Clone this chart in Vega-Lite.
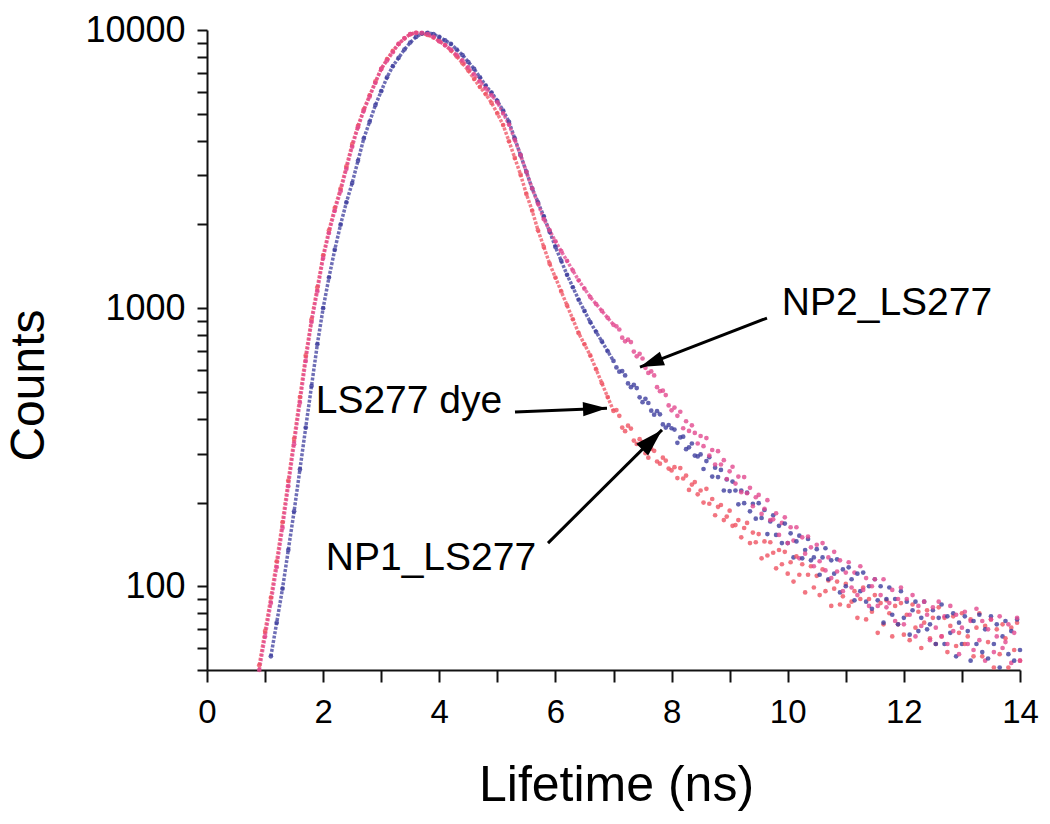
{
  "$schema": "https://vega.github.io/schema/vega-lite/v6.json",
  "width": 813,
  "height": 640,
  "autosize": {"type": "none"},
  "padding": {"left": 207, "top": 30, "right": 30, "bottom": 154},
  "background": "white",
  "config": {"view": {"stroke": null}, "font": "Liberation Sans, Arial, sans-serif"},
  "datasets": {
    "curves": [
      {"t":0.9,"d":52,"a":null,"b":50},{"t":1.0,"d":69,"a":null,"b":66},{"t":1.1,"d":91,"a":56,"b":87},{"t":1.2,"d":123,"a":74,"b":117},
      {"t":1.3,"d":170,"a":98,"b":162},{"t":1.4,"d":240,"a":135,"b":229},{"t":1.5,"d":339,"a":186,"b":324},{"t":1.6,"d":479,"a":263,"b":457},
      {"t":1.7,"d":676,"a":372,"b":646},{"t":1.8,"d":912,"a":525,"b":891},{"t":1.9,"d":1189,"a":741,"b":1148},{"t":2.0,"d":1549,"a":1000,"b":1514},
      {"t":2.1,"d":1905,"a":1288,"b":1862},{"t":2.2,"d":2291,"a":1622,"b":2239},{"t":2.3,"d":2692,"a":1995,"b":2630},{"t":2.4,"d":3236,"a":2399,"b":3162},
      {"t":2.5,"d":3890,"a":2818,"b":3802},{"t":2.6,"d":4519,"a":3388,"b":4467},{"t":2.7,"d":5188,"a":4074,"b":5129},{"t":2.8,"d":5821,"a":4677,"b":5754},
      {"t":2.9,"d":6531,"a":5370,"b":6457},{"t":3.0,"d":7244,"a":6026,"b":7244},{"t":3.1,"d":7852,"a":6761,"b":7762},{"t":3.2,"d":8414,"a":7413,"b":8318},
      {"t":3.3,"d":8913,"a":7943,"b":8913},{"t":3.4,"d":9333,"a":8511,"b":9333},{"t":3.5,"d":9661,"a":9016,"b":9661},{"t":3.6,"d":9772,"a":9441,"b":9772},
      {"t":3.7,"d":9720,"a":9705,"b":9772},{"t":3.8,"d":9600,"a":9772,"b":9661},{"t":3.9,"d":9397,"a":9661,"b":9441},{"t":4.0,"d":9120,"a":9441,"b":9120},
      {"t":4.1,"d":8831,"a":9183,"b":8810},{"t":4.2,"d":8433,"a":8913,"b":8511},{"t":4.3,"d":8035,"a":8511,"b":8128},{"t":4.4,"d":7586,"a":8128,"b":7762},
      {"t":4.5,"d":7145,"a":7674,"b":7328},{"t":4.6,"d":6668,"a":7244,"b":6918},{"t":4.7,"d":6237,"a":6761,"b":6531},{"t":4.8,"d":5875,"a":6310,"b":6166},
      {"t":4.9,"d":5470,"a":5957,"b":5821},{"t":5.0,"d":5012,"a":5559,"b":5495},{"t":5.1,"d":4550,"a":5129,"b":5012},{"t":5.2,"d":3981,"a":4677,"b":4571},
      {"t":5.3,"d":3467,"a":4074,"b":4027},{"t":5.4,"d":3020,"a":3548,"b":3548},{"t":5.5,"d":2570,"a":3090,"b":3090},{"t":5.6,"d":2239,"a":2692,"b":2692},
      {"t":5.7,"d":1905,"a":2399,"b":2371},{"t":5.8,"d":1660,"a":2138,"b":2089},{"t":5.9,"d":1445,"a":1884,"b":1905},{"t":6.0,"d":1288,"a":1660,"b":1738},
      {"t":6.1,"d":1148,"a":1479,"b":1603},{"t":6.2,"d":1023,"a":1318,"b":1479},{"t":6.3,"d":912,"a":1189,"b":1365},{"t":6.4,"d":813,"a":1072,"b":1259},
      {"t":6.5,"d":741,"a":977,"b":1175},{"t":6.6,"d":676,"a":891,"b":1096},{"t":6.7,"d":603,"a":822,"b":1035},{"t":6.8,"d":537,"a":759,"b":977},
      {"t":6.9,"d":479,"a":700,"b":923},{"t":7.0,"d":427,"a":646,"b":871},
      {"t":7.05,"d":430,"a":612,"b":860},{"t":7.1,"d":410,"a":591,"b":838},{"t":7.15,"d":372,"a":594,"b":783},{"t":7.2,"d":361,"a":573,"b":760},
      {"t":7.25,"d":378,"a":536,"b":770},{"t":7.3,"d":369,"a":520,"b":755},{"t":7.35,"d":334,"a":530,"b":698},{"t":7.4,"d":325,"a":516,"b":671},
      {"t":7.45,"d":338,"a":478,"b":685},{"t":7.5,"d":330,"a":459,"b":659},{"t":7.55,"d":301,"a":472,"b":610},{"t":7.6,"d":290,"a":456,"b":585},
      {"t":7.65,"d":312,"a":428,"b":592},{"t":7.7,"d":307,"a":414,"b":573},{"t":7.75,"d":281,"a":426,"b":520},{"t":7.8,"d":276,"a":415,"b":503},
      {"t":7.85,"d":290,"a":382,"b":505},{"t":7.9,"d":283,"a":372,"b":487},{"t":7.95,"d":265,"a":380,"b":447},{"t":8.0,"d":261,"a":370,"b":429},
      {"t":8.05,"d":268,"a":366,"b":439},{"t":8.1,"d":245,"a":328,"b":410},{"t":8.15,"d":266,"a":343,"b":424},{"t":8.2,"d":244,"a":345,"b":370},
      {"t":8.25,"d":250,"a":311,"b":392},{"t":8.3,"d":222,"a":316,"b":362},{"t":8.35,"d":232,"a":326,"b":379},{"t":8.4,"d":237,"a":295,"b":356},
      {"t":8.45,"d":214,"a":293,"b":326},{"t":8.5,"d":221,"a":298,"b":347},{"t":8.55,"d":200,"a":264,"b":319},{"t":8.6,"d":224,"a":282,"b":341},
      {"t":8.65,"d":198,"a":291,"b":295},{"t":8.7,"d":206,"a":248,"b":309},{"t":8.75,"d":180,"a":267,"b":274},{"t":8.8,"d":193,"a":247,"b":306},
      {"t":8.85,"d":196,"a":262,"b":274},{"t":8.9,"d":173,"a":221,"b":284},{"t":8.95,"d":178,"a":242,"b":243},{"t":9.0,"d":187,"a":220,"b":259},
      {"t":9.05,"d":165,"a":238,"b":269},{"t":9.1,"d":166,"a":221,"b":234},{"t":9.15,"d":173,"a":197,"b":248},{"t":9.2,"d":150,"a":221,"b":218},
      {"t":9.25,"d":162,"a":199,"b":247},{"t":9.3,"d":169,"a":217,"b":216},{"t":9.35,"d":143,"a":186,"b":226},{"t":9.4,"d":156,"a":198,"b":194},
      {"t":9.45,"d":144,"a":175,"b":209},{"t":9.5,"d":154,"a":199,"b":213},{"t":9.55,"d":126,"a":176,"b":182},{"t":9.6,"d":145,"a":188,"b":190},
      {"t":9.65,"d":129,"a":154,"b":204},{"t":9.7,"d":144,"a":171,"b":173},{"t":9.75,"d":132,"a":180,"b":174},{"t":9.8,"d":116,"a":153,"b":183},
      {"t":9.85,"d":135,"a":165,"b":153},{"t":9.9,"d":120,"a":143,"b":169},{"t":9.95,"d":133,"a":168,"b":177},{"t":10.0,"d":111,"a":143,"b":143},
      {"t":10.05,"d":122,"a":155,"b":163},{"t":10.1,"d":104,"a":127,"b":146},{"t":10.15,"d":128,"a":145,"b":163},{"t":10.2,"d":110,"a":152,"b":126},
      {"t":10.25,"d":120,"a":126,"b":150},{"t":10.3,"d":95,"a":135,"b":131},{"t":10.35,"d":110,"a":148,"b":151},{"t":10.4,"d":118,"a":124,"b":138},
      {"t":10.45,"d":99,"a":127,"b":118},{"t":10.5,"d":109,"a":136,"b":141},{"t":10.55,"d":93,"a":110,"b":123},{"t":10.6,"d":115,"a":127,"b":143},
      {"t":10.65,"d":96,"a":137,"b":114},{"t":10.7,"d":105,"a":106,"b":127},{"t":10.75,"d":85,"a":124,"b":107},{"t":10.8,"d":98,"a":111,"b":133},
      {"t":10.85,"d":104,"a":125,"b":113},{"t":10.9,"d":86,"a":95,"b":124},{"t":10.95,"d":92,"a":115,"b":96},{"t":11.0,"d":102,"a":100,"b":112},
      {"t":11.05,"d":85,"a":117,"b":122},{"t":11.1,"d":88,"a":106,"b":99},{"t":11.15,"d":96,"a":89,"b":112},{"t":11.2,"d":77,"a":111,"b":93},
      {"t":11.25,"d":90,"a":96,"b":118},{"t":11.3,"d":99,"a":112,"b":97},{"t":11.35,"d":76,"a":88,"b":107},{"t":11.4,"d":90,"a":100,"b":85},
      {"t":11.45,"d":81,"a":83,"b":100},{"t":11.5,"d":93,"a":106,"b":106},{"t":11.55,"d":68,"a":89,"b":85},{"t":11.6,"d":87,"a":100,"b":93},
      {"t":11.65,"d":73,"a":74,"b":106},{"t":11.7,"d":89,"a":90,"b":84},{"t":11.75,"d":80,"a":99,"b":87},{"t":11.8,"d":66,"a":79,"b":97},
      {"t":11.85,"d":85,"a":90,"b":75},{"t":11.9,"d":73,"a":73,"b":90},{"t":11.95,"d":87,"a":96,"b":99},{"t":12.0,"d":67,"a":77,"b":73},
      {"t":12.05,"d":79,"a":88,"b":90},{"t":12.1,"d":64,"a":67,"b":79},{"t":12.15,"d":86,"a":82,"b":93},{"t":12.2,"d":71,"a":88,"b":66},
      {"t":12.25,"d":81,"a":69,"b":85},{"t":12.3,"d":60,"a":77,"b":72},{"t":12.35,"d":74,"a":88,"b":88},{"t":12.4,"d":82,"a":70,"b":79},
      {"t":12.45,"d":65,"a":73,"b":64},{"t":12.5,"d":77,"a":82,"b":84},{"t":12.55,"d":62,"a":62,"b":71},{"t":12.6,"d":84,"a":77,"b":88},
      {"t":12.65,"d":66,"a":86,"b":66},{"t":12.7,"d":77,"a":62,"b":78},{"t":12.75,"d":58,"a":78,"b":62},{"t":12.8,"d":72,"a":68,"b":85},
      {"t":12.85,"d":78,"a":80,"b":69},{"t":12.9,"d":61,"a":56,"b":79},{"t":12.95,"d":68,"a":74,"b":57},{"t":13.0,"d":80,"a":62,"b":71},
      {"t":13.05,"d":62,"a":78,"b":81},{"t":13.1,"d":66,"a":69,"b":62},{"t":13.15,"d":76,"a":54,"b":75},{"t":13.2,"d":56,"a":75,"b":59},
      {"t":13.25,"d":71,"a":62,"b":83},{"t":13.3,"d":80,"a":79,"b":64},{"t":13.35,"d":56,"a":58,"b":75},{"t":13.4,"d":72,"a":70,"b":54},
      {"t":13.45,"d":63,"a":55,"b":70},{"t":13.5,"d":76,"a":78,"b":76},{"t":13.55,"d":51,"a":62,"b":58},{"t":13.6,"d":70,"a":73,"b":66},
      {"t":13.65,"d":57,"a":51,"b":78},{"t":13.7,"d":73,"a":66,"b":60},{"t":13.75,"d":65,"a":75,"b":63},{"t":13.8,"d":51,"a":57,"b":73},
      {"t":13.85,"d":71,"a":69,"b":53},{"t":13.9,"d":59,"a":54,"b":68},{"t":13.95,"d":74,"a":76,"b":77},{"t":14.0,"d":54,"a":59,"b":54}
    ],
    "notes": [
      {"label": "NP2_LS277", "x": 11.71, "y": 944},
      {"label": "LS277 dye", "x": 3.478, "y": 420},
      {"label": "NP1_LS277", "x": 3.857, "y": 114}
    ],
    "arrows": [
      {"label": "NP2_LS277", "x": 9.643, "y": 921, "x2": 7.456, "y2": 614},
      {"label": "LS277 dye", "x": 5.304, "y": 423, "x2": 6.888, "y2": 437},
      {"label": "NP1_LS277", "x": 5.872, "y": 143, "x2": 7.835, "y2": 365}
    ]
  },
  "layer": [
    {
      "data": {"name": "curves"},
      "transform": [{"fold": ["d", "a", "b"], "as": ["s", "v"]}, {"filter": {"field": "t", "lte": 7.0}}],
      "mark": {"type": "line", "strokeWidth": 3.5, "opacity": 0.75, "strokeDash": [3, 1.5]},
      "encoding": {
        "x": {
          "field": "t", "type": "quantitative",
          "scale": {"domain": [0, 14], "nice": false},
          "axis": {
            "title": "Lifetime (ns)",
            "values": [0,1,2,3,4,5,6,7,8,9,10,11,12,13,14],
            "format": "d",
            "labelExpr": "datum.value % 2 === 0 ? datum.label : ''",
            "labelFlush": false, "labelOverlap": false, "grid": false,
            "domainColor": "#111", "domainWidth": 2,
            "tickColor": "#111", "tickWidth": 2, "tickSize": 12,
            "labelFont": "Liberation Sans", "labelFontSize": 33, "labelColor": "#000", "labelPadding": 14,
            "titleFont": "Liberation Sans", "titleFontSize": 50, "titleFontWeight": "normal", "titleColor": "#000",
            "titleX": 409, "titleY": 130, "titleBaseline": "alphabetic"
          }
        },
        "y": {
          "field": "v", "type": "quantitative",
          "scale": {"type": "log", "domain": [50, 10000], "nice": false},
          "axis": {
            "title": "Counts",
            "values": [50,60,70,80,90,100,200,300,400,500,600,700,800,900,1000,2000,3000,4000,5000,6000,7000,8000,9000,10000],
            "format": "d",
            "labelExpr": "(datum.value === 100 || datum.value === 1000 || datum.value === 10000) ? datum.label : ''",
            "labelOverlap": false, "grid": false,
            "domainColor": "#111", "domainWidth": 2,
            "tickColor": "#111", "tickWidth": 2, "tickSize": 10,
            "labelFont": "Liberation Sans", "labelFontSize": 36, "labelColor": "#000", "labelPadding": 12,
            "titleFont": "Liberation Sans", "titleFontSize": 48, "titleFontWeight": "normal", "titleColor": "#000",
            "titleX": -164, "titleY": 355, "titleBaseline": "alphabetic"
          }
        },
        "color": {"field": "s", "type": "nominal", "scale": {"domain": ["d", "a", "b"], "range": ["#ef5262", "#3d3d9e", "#e2488f"]}, "legend": null}
      }
    },
    {
      "data": {"name": "curves"},
      "transform": [{"fold": ["d", "a", "b"], "as": ["s", "v"]}],
      "mark": {"type": "circle", "size": 22, "opacity": 0.8},
      "encoding": {
        "x": {"field": "t", "type": "quantitative", "scale": {"domain": [0, 14], "nice": false}},
        "y": {"field": "v", "type": "quantitative", "scale": {"type": "log", "domain": [50, 10000], "nice": false}},
        "color": {"field": "s", "type": "nominal", "scale": {"domain": ["d", "a", "b"], "range": ["#ef5262", "#3d3d9e", "#e2488f"]}, "legend": null}
      }
    },
    {
      "data": {"name": "notes"},
      "mark": {"type": "text", "font": "Liberation Sans", "fontSize": 39, "align": "center", "baseline": "alphabetic", "color": "#000"},
      "encoding": {
        "x": {"field": "x", "type": "quantitative", "scale": {"domain": [0, 14], "nice": false}},
        "y": {"field": "y", "type": "quantitative", "scale": {"type": "log", "domain": [50, 10000], "nice": false}},
        "text": {"field": "label"}
      }
    },
    {
      "data": {"name": "arrows"},
      "mark": {"type": "rule", "strokeWidth": 3, "color": "#000"},
      "encoding": {
        "x": {"field": "x", "type": "quantitative", "scale": {"domain": [0, 14], "nice": false}},
        "y": {"field": "y", "type": "quantitative", "scale": {"type": "log", "domain": [50, 10000], "nice": false}},
        "x2": {"field": "x2"},
        "y2": {"field": "y2"}
      }
    },
    {
      "data": {"name": "arrows"},
      "transform": [{"filter": {"field": "label", "equal": "NP2_LS277"}}],
      "mark": {"type": "point", "shape": "M0,0L0.6,2L-0.6,2Z", "filled": true, "color": "#000", "opacity": 1, "size": 576, "angle": 249},
      "encoding": {
        "x": {"field": "x2", "type": "quantitative", "scale": {"domain": [0, 14], "nice": false}},
        "y": {"field": "y2", "type": "quantitative", "scale": {"type": "log", "domain": [50, 10000], "nice": false}}
      }
    },
    {
      "data": {"name": "arrows"},
      "transform": [{"filter": {"field": "label", "equal": "LS277 dye"}}],
      "mark": {"type": "point", "shape": "M0,0L0.6,2L-0.6,2Z", "filled": true, "color": "#000", "opacity": 1, "size": 576, "angle": 87.5},
      "encoding": {
        "x": {"field": "x2", "type": "quantitative", "scale": {"domain": [0, 14], "nice": false}},
        "y": {"field": "y2", "type": "quantitative", "scale": {"type": "log", "domain": [50, 10000], "nice": false}}
      }
    },
    {
      "data": {"name": "arrows"},
      "transform": [{"filter": {"field": "label", "equal": "NP1_LS277"}}],
      "mark": {"type": "point", "shape": "M0,0L0.6,2L-0.6,2Z", "filled": true, "color": "#000", "opacity": 1, "size": 784, "angle": 45},
      "encoding": {
        "x": {"field": "x2", "type": "quantitative", "scale": {"domain": [0, 14], "nice": false}},
        "y": {"field": "y2", "type": "quantitative", "scale": {"type": "log", "domain": [50, 10000], "nice": false}}
      }
    }
  ]
}
